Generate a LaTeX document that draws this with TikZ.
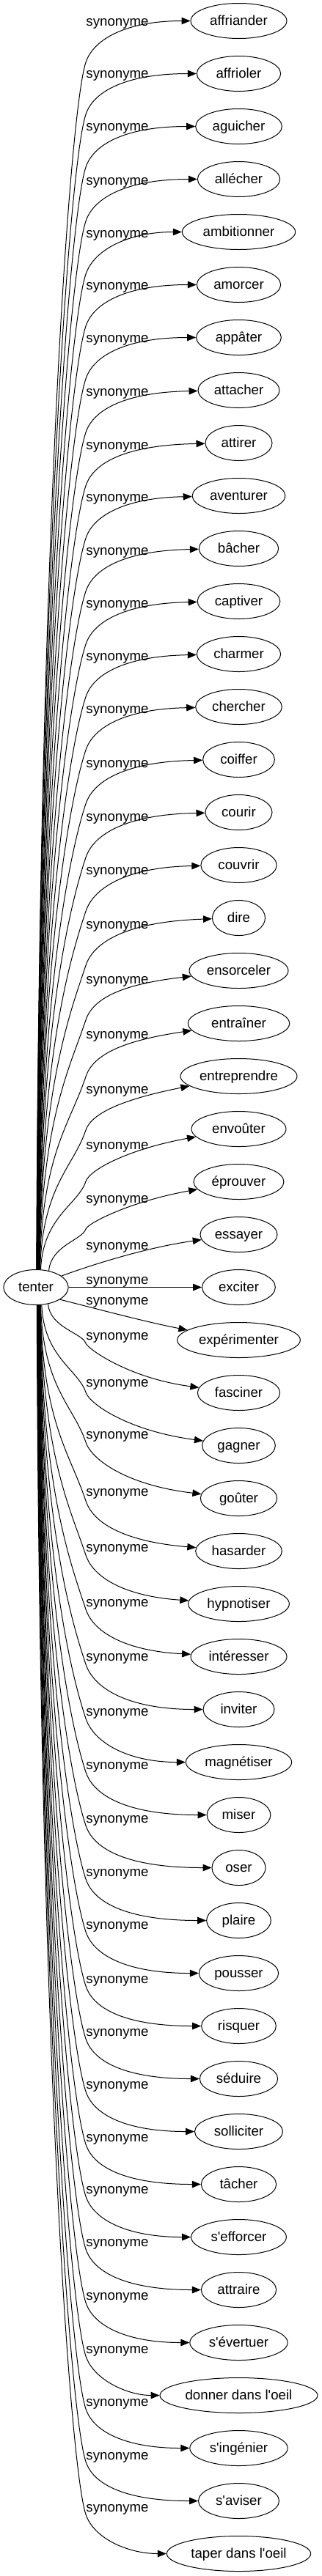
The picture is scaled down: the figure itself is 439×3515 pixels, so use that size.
\documentclass[tikz,border=0pt]{standalone}
\usepackage{fontspec}
\setmainfont{Liberation Sans}[Ligatures=TeXOff]
\usetikzlibrary{arrows.meta,shapes.geometric}
\begin{document}
\begin{tikzpicture}[x=1pt,y=-1pt,
  every node/.style={font=\fontsize{18.67}{22}\selectfont},
  tgt/.style={draw, ellipse, minimum height=48pt, inner sep=0pt, text height=13.8pt, text depth=1pt, line width=1pt},
  lab/.style={anchor=base, inner sep=0pt},
  edge/.style={line width=1pt, -{Triangle[length=12pt,width=9.5pt]}}]
\useasboundingbox (0,0) rectangle (439,3515);
\node[tgt, minimum width=88.3pt] (tenter) at (49,1756.5) {tenter};
% generic edges
\foreach \id/\txt/\w/\yt/\yl/\yb/\ang/\dd in {
 0/affriander/131/28.5/30/85/88/0,
 1/affrioler/114.3/100.5/101/156/88/0,
 2/aguicher/117.7/172.5/173/228/87/0,
 3/allécher/112.3/244.5/246.7/301.7/87/0,
 4/ambitionner/154.3/316.5/319/374/86/0,
 5/amorcer/114.3/388.5/390/445/86/0,
 6/appâter/115.7/460.5/461.7/516.7/85/0,
 7/attacher/111/532.5/535/590/85/1,
 8/attirer/91/604.5/607.7/662.7/84/1,
 9/aventurer/126.7/676.5/679.3/734.3/84/1,
 10/bâcher/108.3/748.5/751.7/806.7/83/1,
 11/captiver/112.7/820.5/824/879/83/1,
 12/charmer/114.3/892.5/895.7/950.7/82/1,
 13/chercher/117.7/964.5/968.3/1023.3/82/1,
 14/coiffer/97.7/1036.5/1041.7/1096.7/81/1,
 15/courir/91/1108.5/1115/1170/81/1,
 16/couvrir/103.3/1180.5/1188.3/1243.3/80/1,
 17/dire/72/1252.5/1262.3/1317.3/80/2,
 18/ensorceler/135/1324.5/1336.7/1391.7/79/7,
 19/entraîner/138.3/1396.5/1411.7/1469/78/9,
 20/entreprendre/159/1468.5/1487/1542/77/12,
 21/envoûter/129/1540.5/1563/1612/75/11,
 22/éprouver/123/1612.5/1636/1677/52/11,
 26/fasciner/112.3/1900.5/1822.7/1833/-54/-8,
 27/gagner/99.7/1972.5/1886.7/1900/-72/-8,
 28/goûter/104.3/2044.5/1958.3/1968/-75/-7,
 29/hasarder/117.7/2116.5/2036/2048/-76/-5,
 30/hypnotiser/137.7/2188.5/2111.7/2122/-76/-4,
 31/intéresser/131/2260.5/2186.7/2196/-77/-3,
 32/inviter/97/2332.5/2261/2271/-77/0,
 33/magnétiser/144.3/2404.5/2335.7/2345/-78/0,
 34/miser/86.7/2476.5/2409/2418/-78/0,
 35/oser/73/2548.5/2481.7/2491/-79/0,
 36/plaire/87.7/2620.5/2555/2564/-79/0,
 37/pousser/108.3/2692.5/2627/2636/-80/0,
 38/risquer/101.7/2764.5/2700.7/2710/-80/0,
 39/séduire/106.3/2836.5/2772.7/2782/-81/0,
 40/solliciter/120/2908.5/2845/2854/-81/0,
 41/tâcher/102.3/2980.5/2917/2926/-82/0,
 42/s'efforcer/129.7/3052.5/2988/2997/-82/0,
 43/attraire/102.3/3124.5/3060/3069/-83/0,
 44/s'évertuer/133.3/3196.5/3132.7/3142/-83/0,
 45/donner dans l'oeil/215/3268.5/3206/3215/-84/0,
 46/s'ingénier/133.3/3340.5/3277.7/3287/-85/0,
 47/s'aviser/110/3412.5/3350.7/3359/-86/0,
 48/taper dans l'oeil/196.3/3484.5/3422/3431/-87/0}{
 \node[tgt, minimum width=\w pt] (n\id) at (325.5,\yt) {\txt};
 \node[lab] (l\id) at (160,\yl+5.5) {synonyme};
 \pgfmathsetmacro\eCa{cos(\ang)}
 \pgfmathsetmacro\eSa{sin(\ang)}
 \pgfmathsetmacro\eR{1/sqrt((\eCa/44.65)^2+(\eSa/24.5)^2)}
 \pgfmathsetmacro\eSx{49+\eR*\eCa}
 \pgfmathsetmacro\eSy{1756.5-\eR*\eSa}
 \pgfmathsetmacro\eDy{\yb-\eSy}
 \pgfmathsetmacro\eSg{\eDy<0 ? -1 : 1}
 \pgfmathsetmacro\eF{min(1,abs(\eDy)/250)}
 \pgfmathsetmacro\cax{\eSx+0.05*(117-\eSx)}
 \pgfmathsetmacro\cay{\eSy+0.6*\eDy}
 \pgfmathsetmacro\cbx{117-22*\eF}
 \pgfmathsetmacro\cby{\yb-\eSg*66*\eF}
 \pgfmathsetmacro\ccx{117+11*\eF}
 \pgfmathsetmacro\ccy{\yb+\eSg*33*\eF}
 \pgfmathsetmacro\cdy{\yt+2.5*\dd}
 \draw[edge] (tenter.\ang) .. controls (\cax,\cay) and (\cbx,\cby) .. (117,\yb) .. controls (\ccx,\ccy) and (175,\cdy) .. (n\id);
}
% special edges near tenter
\node[tgt, minimum width=105pt] (n23) at (325.5,1684.5) {essayer};
\node[lab] (l23) at (160,1705.5) {synonyme};
\draw[edge] (tenter.24) .. controls (150,1717) and (215,1700) .. (n23);
\node[tgt, minimum width=99.7pt] (n24) at (325.5,1756.5) {exciter};
\node[lab] (l24) at (160,1752) {synonyme};
\draw[edge] (tenter) -- (n24);
\node[tgt, minimum width=167.7pt] (n25) at (325.5,1828.5) {expérimenter};
\node[lab] (l25) at (160,1780.5) {synonyme};
\draw[edge] (tenter.-27) .. controls (140,1788) and (200,1804) .. (n25);
\end{tikzpicture}
\end{document}
